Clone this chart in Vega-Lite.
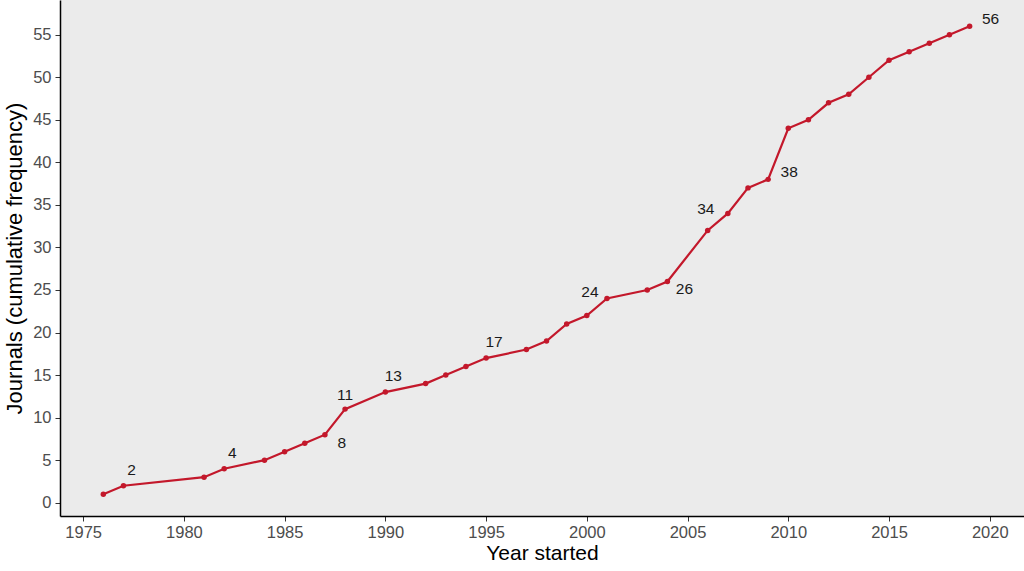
{
  "$schema": "https://vega.github.io/schema/vega-lite/v6.json",
  "width": 964,
  "height": 516,
  "autosize": "none",
  "padding": {"left": 60, "top": 0, "right": 0, "bottom": 55},
  "background": "white",
  "config": {
    "view": {"fill": "#EBEBEB", "stroke": null},
    "font": "Liberation Sans",
    "axis": {
      "grid": false,
      "domainColor": "#000000",
      "domainWidth": 1.5,
      "tickColor": "#333333",
      "tickSize": 5,
      "labelColor": "#4D4D4D",
      "labelFontSize": 16.5,
      "titleFontWeight": "normal",
      "titleColor": "#000000",
      "labelFont": "Liberation Sans",
      "titleFont": "Liberation Sans"
    }
  },
  "data": {
    "values": [
      {"year": 1976, "journals": 1},
      {"year": 1977, "journals": 2},
      {"year": 1981, "journals": 3},
      {"year": 1982, "journals": 4},
      {"year": 1984, "journals": 5},
      {"year": 1985, "journals": 6},
      {"year": 1986, "journals": 7},
      {"year": 1987, "journals": 8},
      {"year": 1988, "journals": 11},
      {"year": 1990, "journals": 13},
      {"year": 1992, "journals": 14},
      {"year": 1993, "journals": 15},
      {"year": 1994, "journals": 16},
      {"year": 1995, "journals": 17},
      {"year": 1997, "journals": 18},
      {"year": 1998, "journals": 19},
      {"year": 1999, "journals": 21},
      {"year": 2000, "journals": 22},
      {"year": 2001, "journals": 24},
      {"year": 2003, "journals": 25},
      {"year": 2004, "journals": 26},
      {"year": 2006, "journals": 32},
      {"year": 2007, "journals": 34},
      {"year": 2008, "journals": 37},
      {"year": 2009, "journals": 38},
      {"year": 2010, "journals": 44},
      {"year": 2011, "journals": 45},
      {"year": 2012, "journals": 47},
      {"year": 2013, "journals": 48},
      {"year": 2014, "journals": 50},
      {"year": 2015, "journals": 52},
      {"year": 2016, "journals": 53},
      {"year": 2017, "journals": 54},
      {"year": 2018, "journals": 55},
      {"year": 2019, "journals": 56}
    ]
  },
  "encoding": {
    "x": {
      "field": "year", "type": "quantitative",
      "scale": {"domain": [1973.85, 2021.7], "nice": false, "zero": false},
      "axis": {"values": [1975, 1980, 1985, 1990, 1995, 2000, 2005, 2010, 2015, 2020], "format": "d", "title": "Year started", "titleFontSize": 21, "titlePadding": 2, "labelPadding": 3}
    },
    "y": {
      "field": "journals", "type": "quantitative",
      "scale": {"domain": [-1.56, 59.08], "nice": false, "zero": false},
      "axis": {"values": [0, 5, 10, 15, 20, 25, 30, 35, 40, 45, 50, 55], "title": "Journals (cumulative frequency)", "titleFontSize": 22, "titlePadding": 6, "labelPadding": 4}
    }
  },
  "layer": [
    {"mark": {"type": "line", "color": "#C3182B", "strokeWidth": 2.2}},
    {"mark": {"type": "point", "filled": true, "color": "#C3182B", "size": 30, "opacity": 1}},
    {
      "transform": [{"filter": {"field": "year", "oneOf": [1977, 1982, 1990, 1995]}}],
      "mark": {"type": "text", "fontSize": 15.5, "color": "#1A1A1A", "dx": 8, "dy": -16, "baseline": "middle", "align": "center"},
      "encoding": {"text": {"field": "journals", "type": "quantitative"}}
    },
    {
      "transform": [{"filter": {"field": "year", "oneOf": [1988]}}],
      "mark": {"type": "text", "fontSize": 15.5, "color": "#1A1A1A", "dx": 0, "dy": -14, "baseline": "middle", "align": "center"},
      "encoding": {"text": {"field": "journals", "type": "quantitative"}}
    },
    {
      "transform": [{"filter": {"field": "year", "oneOf": [1987, 2004]}}],
      "mark": {"type": "text", "fontSize": 15.5, "color": "#1A1A1A", "dx": 17, "dy": 8, "baseline": "middle", "align": "center"},
      "encoding": {"text": {"field": "journals", "type": "quantitative"}}
    },
    {
      "transform": [{"filter": {"field": "year", "oneOf": [2001]}}],
      "mark": {"type": "text", "fontSize": 15.5, "color": "#1A1A1A", "dx": -17, "dy": -7, "baseline": "middle", "align": "center"},
      "encoding": {"text": {"field": "journals", "type": "quantitative"}}
    },
    {
      "transform": [{"filter": {"field": "year", "oneOf": [2007]}}],
      "mark": {"type": "text", "fontSize": 15.5, "color": "#1A1A1A", "dx": -22, "dy": -4, "baseline": "middle", "align": "center"},
      "encoding": {"text": {"field": "journals", "type": "quantitative"}}
    },
    {
      "transform": [{"filter": {"field": "year", "oneOf": [2009, 2019]}}],
      "mark": {"type": "text", "fontSize": 15.5, "color": "#1A1A1A", "dx": 21, "dy": -7, "baseline": "middle", "align": "center"},
      "encoding": {"text": {"field": "journals", "type": "quantitative"}}
    }
  ]
}
